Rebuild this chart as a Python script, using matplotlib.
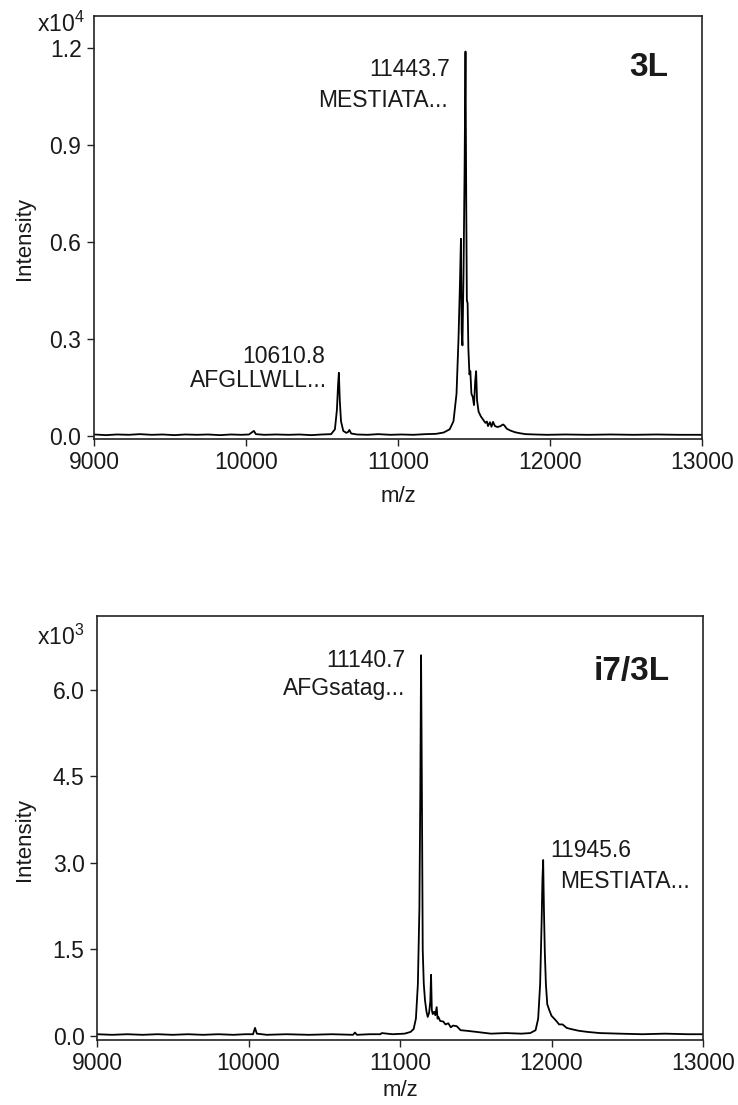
import matplotlib
matplotlib.use("Agg")
import matplotlib.pyplot as plt

plt.rcParams['font.family'] = ['Liberation Sans', 'DejaVu Sans']
plt.rcParams['mathtext.default'] = 'regular'

# ---- Panel 1: 3L (intensity in units of 1e4) ----
mz_3L = [9000, 9080, 9150, 9230, 9300, 9380, 9450, 9530, 9600, 9680, 9750, 9830,
         9900, 9970, 10020, 10040, 10052, 10065, 10120, 10200, 10280, 10350, 10430,
         10500, 10560, 10585, 10598, 10606, 10611, 10617, 10625, 10640, 10660,
         10672, 10680, 10692, 10730, 10800, 10870, 10950, 11020, 11100, 11180,
         11250, 11300, 11340, 11365, 11385, 11398, 11408, 11414, 11419, 11424,
         11431, 11438, 11444, 11449, 11453, 11458, 11463, 11470, 11476, 11483,
         11492, 11500, 11508, 11514, 11520, 11530, 11545, 11560, 11575, 11585,
         11592, 11605, 11615, 11625, 11638, 11655, 11675, 11690, 11700, 11715,
         11740, 11770, 11800, 11840, 11900, 11980, 12100, 12250, 12400, 12550,
         12700, 12850, 13000]
int_3L = [0.004, 0.002, 0.004, 0.003, 0.005, 0.003, 0.004, 0.002, 0.004, 0.003,
          0.004, 0.002, 0.004, 0.003, 0.004, 0.011, 0.015, 0.005, 0.003, 0.004,
          0.003, 0.004, 0.002, 0.004, 0.005, 0.02, 0.08, 0.16, 0.195, 0.11,
          0.045, 0.015, 0.009, 0.012, 0.018, 0.007, 0.004, 0.003, 0.005, 0.003,
          0.004, 0.003, 0.005, 0.006, 0.01, 0.02, 0.045, 0.13, 0.3, 0.48, 0.61,
          0.32, 0.28, 0.5, 0.82, 1.19, 0.72, 0.42, 0.41, 0.27, 0.19, 0.2, 0.13,
          0.12, 0.095, 0.17, 0.2, 0.11, 0.075, 0.06, 0.05, 0.04, 0.044, 0.03,
          0.042, 0.028, 0.043, 0.03, 0.027, 0.03, 0.035, 0.032, 0.022, 0.016,
          0.011, 0.008, 0.005, 0.004, 0.003, 0.004, 0.003, 0.004, 0.003, 0.004,
          0.003, 0.003]

# ---- Panel 2: i7/3L (intensity in units of 1e3) ----
mz_i7 = [9000, 9100, 9200, 9300, 9400, 9500, 9600, 9700, 9800, 9900, 9980,
         10030, 10043, 10055, 10120, 10250, 10400, 10550, 10690, 10703, 10715,
         10800, 10870, 10880, 10950, 11030, 11070, 11090, 11105, 11118, 11128,
         11134, 11139, 11144, 11150, 11157, 11165, 11175, 11183, 11192, 11200,
         11205, 11210, 11216, 11225, 11233, 11242, 11248, 11253, 11265, 11286,
         11300, 11319, 11335, 11350, 11374, 11400, 11440, 11506, 11600, 11700,
         11800, 11860, 11895, 11912, 11925, 11935, 11940, 11945, 11950, 11956,
         11963, 11972, 11985, 12000, 12018, 12035, 12050, 12073, 12100, 12128,
         12180, 12238, 12320, 12450, 12600, 12750, 12900, 13000]
int_i7 = [0.03, 0.02, 0.03, 0.02, 0.03, 0.02, 0.03, 0.02, 0.03, 0.02, 0.03,
          0.03, 0.14, 0.04, 0.02, 0.03, 0.02, 0.03, 0.02, 0.06, 0.02, 0.03,
          0.03, 0.05, 0.03, 0.04, 0.07, 0.12, 0.3, 0.9, 2.2, 4.2, 6.6, 4.5,
          1.49, 0.9, 0.62, 0.42, 0.33, 0.4, 0.6, 1.06, 0.45, 0.38, 0.42, 0.36,
          0.5, 0.3, 0.33, 0.26, 0.25, 0.2, 0.22, 0.15, 0.18, 0.17, 0.1, 0.09,
          0.07, 0.04, 0.05, 0.04, 0.05, 0.1, 0.3, 0.9, 2.0, 2.7, 3.05, 2.2,
          1.44, 0.9, 0.55, 0.45, 0.35, 0.3, 0.25, 0.2, 0.2, 0.14, 0.12, 0.09,
          0.07, 0.05, 0.04, 0.03, 0.04, 0.03, 0.03]

xticks = [9000, 10000, 11000, 12000, 13000]
yticks_3L = [0.0, 0.3, 0.6, 0.9, 1.2]
yticks_i7 = [0.0, 1.5, 3.0, 4.5, 6.0]

W, H = 738, 1105
fig = plt.figure(figsize=(W / 100, H / 100), dpi=100)

def px_axes(l, t, r, b):
    return [l / W, 1 - b / H, (r - l) / W, (b - t) / H]

ax1 = fig.add_axes(px_axes(94, 16, 702, 439))
ax2 = fig.add_axes(px_axes(97, 616, 703, 1040))

FS = 16.5
LFS = 16
TC = '#1a1a1a'
for ax in (ax1, ax2):
    ax.set_xlim(9000, 13000)
    ax.set_xticks(xticks)
    ax.set_xticklabels([str(t) for t in xticks])
    for s in ax.spines.values():
        s.set_linewidth(1.2)
        s.set_color('#222222')
    ax.tick_params(axis='both', direction='out', length=5, width=1.0,
                   labelsize=FS, pad=4, color='#222222', labelcolor=TC)

# Panel 1
ax1.plot(mz_3L, int_3L, color='black', lw=1.3)
ax1.set_ylim(-0.01, 1.3)
ax1.set_yticks(yticks_3L)
ax1.set_yticklabels([f"{v:.1f}" for v in yticks_3L])
ax1.text(-0.094, 0.962, 'x10$^{4}$', transform=ax1.transAxes, ha='left',
         va='baseline', fontsize=FS, color=TC)
ax1.text(-0.114, 0.474, 'Intensity', transform=ax1.transAxes, rotation=90,
         ha='center', va='center', fontsize=LFS, color=TC)
ax1.text(0.5, -0.135, 'm/z', transform=ax1.transAxes, ha='center',
         va='center', fontsize=LFS, color=TC)
ax1.text(0.944, 0.858, '3L', transform=ax1.transAxes, ha='right',
         va='baseline', fontsize=24, fontweight='bold', color=TC)

def lab(ax, x, y, s, dx, dy, ha):
    ax.annotate(s, xy=(x, y), xytext=(dx, dy), textcoords='offset points',
                ha=ha, va='baseline', fontsize=FS, color=TC)

lab(ax1, 11444, 1.19, '11443.7', -11.2, -17.3, 'right')
lab(ax1, 11444, 1.19, 'MESTIATA...', -12.6, -40.3, 'right')
lab(ax1, 10611, 0.195, '10610.8', -10.0, 7.2, 'right')
lab(ax1, 10611, 0.195, 'AFGLLWLL...', -8.6, -10.0, 'right')

# Panel 2
ax2.plot(mz_i7, int_i7, color='black', lw=1.3)
ax2.set_ylim(-0.07, 7.28)
ax2.set_yticks(yticks_i7)
ax2.set_yticklabels([f"{v:.1f}" for v in yticks_i7])
ax2.text(-0.099, 0.932, 'x10$^{3}$', transform=ax2.transAxes, ha='left',
         va='baseline', fontsize=FS, color=TC)
ax2.text(-0.12, 0.472, 'Intensity', transform=ax2.transAxes, rotation=90,
         ha='center', va='center', fontsize=LFS, color=TC)
ax2.text(0.5, -0.118, 'm/z', transform=ax2.transAxes, ha='center',
         va='center', fontsize=LFS, color=TC)
ax2.text(0.945, 0.85, 'i7/3L', transform=ax2.transAxes, ha='right',
         va='baseline', fontsize=24, fontweight='bold', color=TC)

lab(ax2, 11140, 6.6, '11140.7', -11.7, -8.4, 'right')
lab(ax2, 11140, 6.6, 'AFGsatag...', -11.7, -28.5, 'right')
lab(ax2, 11945, 3.05, '11945.6', 4.9, 2.2, 'left')
lab(ax2, 11945, 3.05, 'MESTIATA...', 12.1, -20.2, 'left')

fig.savefig('out.png', dpi=100, facecolor='white')
